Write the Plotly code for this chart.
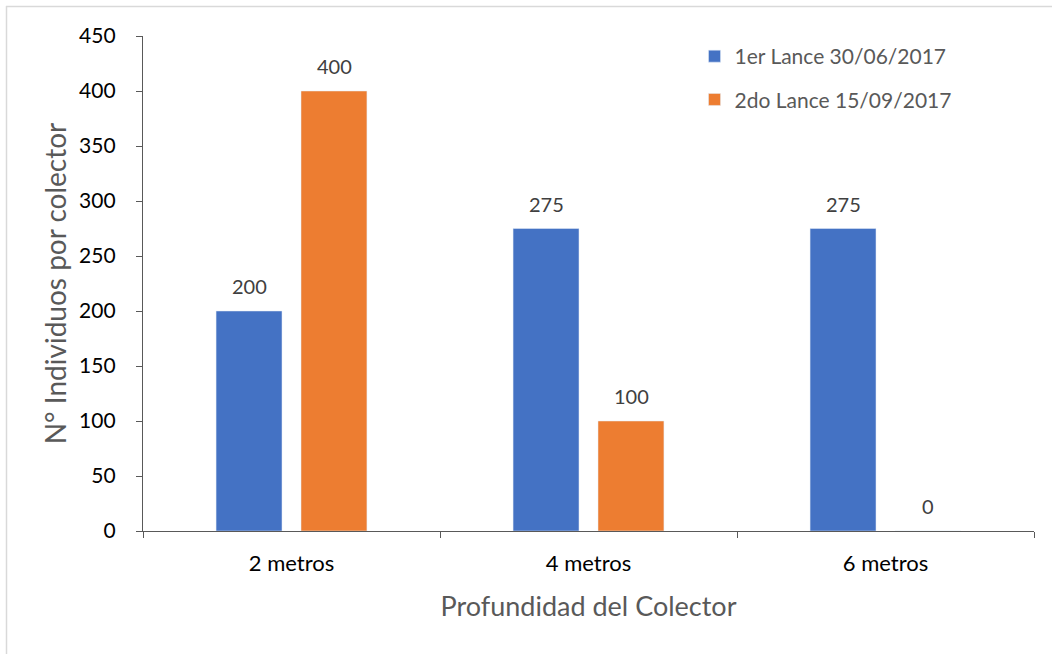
import plotly.graph_objects as go

categories = ["2 metros", "4 metros", "6 metros"]
serie1_name = "1er Lance 30/06/2017"
serie2_name = "2do Lance 15/09/2017"
serie1 = [200, 275, 275]
serie2 = [400, 100, 0]
y_ticks = [0, 50, 100, 150, 200, 250, 300, 350, 400, 450]

BLUE = "#4472C4"
ORANGE = "#ED7D31"
FONT = "Lato, Carlito, Calibri, sans-serif"

fig = go.Figure()
fig.add_trace(go.Bar(x=categories, y=serie1, name=serie1_name, marker_color=BLUE,
                     legendgroup="a"))
fig.add_trace(go.Bar(x=categories, y=serie2, name=serie2_name, marker_color=ORANGE,
                     legendgroup="b"))

# data labels
annotations = []
for vals, shift in ((serie1, -42.5), (serie2, 42.5)):
    for c, v in zip(categories, vals):
        annotations.append(dict(x=c, y=v, text=str(v), showarrow=False, xshift=shift,
                                yshift=25, font=dict(family=FONT, size=20, color="#404040")))

L, R, T, B = 143, 18, 36, 123
W, H = 1052, 654
pw, ph = W - L - R, H - T - B

def px_x(p):
    return (p - L) / pw

def px_y(p):
    return (H - B - p) / ph

shapes = [
    dict(type="line", xref="paper", yref="paper", x0=px_x(6), x1=px_x(1052),
         y0=px_y(6.5), y1=px_y(6.5), line=dict(color="#D9D9D9", width=1.5)),
    dict(type="line", xref="paper", yref="paper", x0=px_x(6.5), x1=px_x(6.5),
         y0=px_y(6), y1=px_y(654), line=dict(color="#D9D9D9", width=1.5)),
]

fig.update_layout(
    width=W, height=H,
    margin=dict(l=L, r=R, t=T, b=B),
    paper_bgcolor="white", plot_bgcolor="white",
    barmode="group", bargap=0.428, bargroupgap=0.224,
    font=dict(family=FONT, size=20, color="#000000"),
    showlegend=True,
    legend=dict(x=0.619, y=1.0, xanchor="left", yanchor="top",
                font=dict(family=FONT, size=21, color="#595959"),
                bgcolor="rgba(0,0,0,0)", tracegroupgap=13, traceorder="grouped"),
    annotations=annotations,
    shapes=shapes,
    xaxis=dict(
        showline=True, linecolor="#595959", linewidth=1.3,
        ticks="outside", tickson="boundaries", ticklen=6, tickcolor="#595959",
        ticklabelstandoff=12,
        tickfont=dict(family=FONT, size=22, color="#000000"),
        title=dict(text="Profundidad del Colector", standoff=22,
                   font=dict(family=FONT, size=27, color="#595959")),
        showgrid=False,
    ),
    yaxis=dict(
        range=[0, 450], tickvals=y_ticks,
        showline=True, linecolor="#595959", linewidth=1.3,
        ticks="outside", ticklen=6, tickcolor="#595959",
        ticklabelstandoff=16,
        tickfont=dict(family=FONT, size=21, color="#000000"),
        title=dict(text="N° Individuos por colector", standoff=4,
                   font=dict(family=FONT, size=28, color="#595959")),
        showgrid=False, zeroline=False,
    ),
)

fig.write_html("out.html")
